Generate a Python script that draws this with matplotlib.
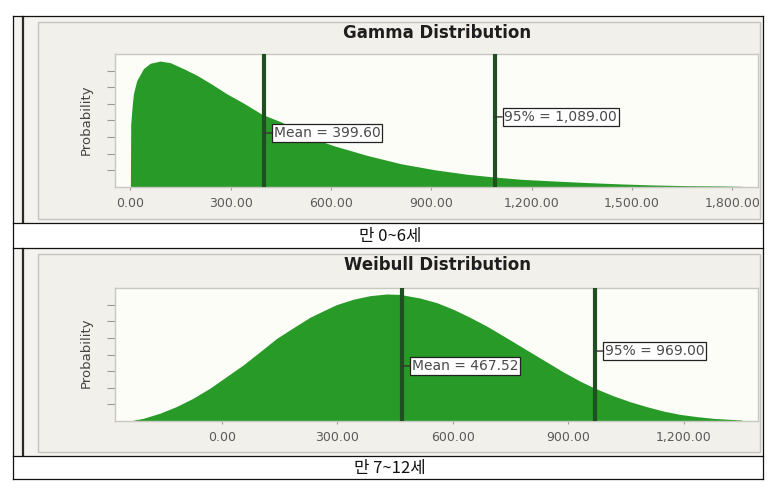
import matplotlib
matplotlib.use("Agg")
import matplotlib.pyplot as plt
from matplotlib.patches import Rectangle
from matplotlib.lines import Line2D

plt.rcParams['font.family'] = ['DejaVu Sans']

# ---------------- data ----------------
gamma_x = [0, 1, 5, 9, 19, 39, 59, 89, 119, 159, 199, 239, 289, 339, 394, 450, 509,
           569, 609, 709, 809, 909, 1009, 1089, 1169, 1269, 1369, 1469, 1569, 1669,
           1769, 1829, 1836]
gamma_p = [0, 0.47, 0.60, 0.70, 0.80, 0.89, 0.93, 0.947, 0.935, 0.89, 0.84, 0.78,
           0.70, 0.63, 0.546, 0.49, 0.415, 0.345, 0.31, 0.237, 0.175, 0.13, 0.095,
           0.075, 0.058, 0.045, 0.033, 0.023, 0.015, 0.010, 0.008, 0.005, 0.0]
gamma_mean = 399.60
gamma_p95 = 1089.00
gamma_ticks = [0, 300, 600, 900, 1200, 1500, 1800]

weibull_x = [-239, -204, -161, -118, -75, -31, 12, 55, 99, 142, 185, 229, 272, 298,
             341, 384, 428, 462, 514, 558, 601, 644, 687, 731, 774, 817, 843, 886,
             930, 969, 1016, 1060, 1103, 1146, 1189, 1233, 1276, 1319, 1350]
weibull_p = [0, 0.02, 0.058, 0.108, 0.17, 0.246, 0.333, 0.42, 0.52, 0.62, 0.70,
             0.78, 0.84, 0.875, 0.915, 0.942, 0.955, 0.952, 0.925, 0.89, 0.84, 0.78,
             0.715, 0.64, 0.565, 0.49, 0.445, 0.37, 0.30, 0.246, 0.19, 0.145,
             0.108, 0.075, 0.05, 0.033, 0.02, 0.0125, 0.0075]
weibull_mean = 467.52
weibull_p95 = 969.00
weibull_ticks = [0, 300, 600, 900, 1200]

titles = ["Gamma Distribution", "Weibull Distribution"]
captions = ["만 0~6세", "만 7~12세"]
ylabel = "Probability"
ytick_fracs = [1/8, 2/8, 3/8, 4/8, 5/8, 6/8, 7/8]

# ---------------- styling ----------------
W, H = 772, 491
FILL = '#289a28'
VLINE = '#1f4f22'
PANEL = '#f1f0eb'
CELL = '#f4f3ef'
PLOTBG = '#fdfdf8'
TICKC = '#5a5a5a'

fig = plt.figure(figsize=(W / 100, H / 100), dpi=100)
fig.patch.set_facecolor('white')


def fx(px):
    return px / W


def fy(py):
    return 1 - py / H


def rect(l, t, r, b, fc, ec='none', lw=0.0, z=0):
    fig.patches.append(Rectangle((fx(l), fy(b)), fx(r) - fx(l), fy(t) - fy(b),
                                 transform=fig.transFigure, facecolor=fc,
                                 edgecolor=ec, linewidth=lw, zorder=z))


def hline(y, x0, x1, color='#111111', lw=1.0, z=5):
    fig.add_artist(Line2D([fx(x0), fx(x1)], [fy(y), fy(y)], transform=fig.transFigure,
                          color=color, lw=lw, zorder=z))


def vline(x, y0, y1, color='#111111', lw=1.0, z=5):
    fig.add_artist(Line2D([fx(x), fx(x)], [fy(y0), fy(y1)], transform=fig.transFigure,
                          color=color, lw=lw, zorder=z))


# table cells
cells = [(16, 223), (248, 456)]
for (t, b) in cells:
    rect(13, t, 763, b, CELL, z=0)
# inner panels
panels = [(22, 219), (254, 452)]
for (t, b) in panels:
    rect(38, t, 760, b, PANEL, ec='#c4c4bc', lw=1.0, z=1)
# thick left lines
for (t, b) in cells:
    vline(23, t + 1, b - 1, color='#2a2a2a', lw=1.6)
# table grid lines
for y in [16, 223, 248, 456, 479]:
    hline(y, 13, 763, lw=0.9)
vline(13, 16, 479, lw=0.9)
vline(763, 16, 479, lw=0.9)

# ---------------- plots ----------------
specs = [
    dict(x=gamma_x, p=gamma_p, mean=gamma_mean, p95=gamma_p95, ticks=gamma_ticks,
         xlim=(-46, 1877), top=54, bottom=187, title_y=33, ylab_y=120, cap_y=236,
         mean_y=0.406, p95_y=0.527),
    dict(x=weibull_x, p=weibull_p, mean=weibull_mean, p95=weibull_p95, ticks=weibull_ticks,
         xlim=(-277, 1392), top=288, bottom=421, title_y=265, ylab_y=353, cap_y=468,
         mean_y=0.414, p95_y=0.526),
]

for i, s in enumerate(specs):
    l, r = 115, 758
    ax = fig.add_axes([fx(l), fy(s['bottom']), fx(r) - fx(l), fy(s['top']) - fy(s['bottom'])])
    ax.set_zorder(3)
    ax.set_facecolor(PLOTBG)
    ax.fill_between(s['x'], 0, s['p'], color=FILL, linewidth=0, zorder=2)
    ax.set_xlim(*s['xlim'])
    ax.set_ylim(0, 1.0)
    for v in (s['mean'], s['p95']):
        ax.axvline(v, color=VLINE, lw=3.0, zorder=3)
    for sp in ax.spines.values():
        sp.set_color('#c8c8c0')
        sp.set_linewidth(1.0)
    ax.set_xticks(s['ticks'])
    ax.set_xticklabels(['{:,.2f}'.format(t) for t in s['ticks']])
    ax.set_yticks(ytick_fracs)
    ax.set_yticklabels([])
    ax.tick_params(axis='x', length=2.5, width=0.8, color='#9a9a9a', pad=5,
                   labelsize=9, labelcolor=TICKC)
    ax.tick_params(axis='y', length=6, width=0.8, color='#9a9a9a')

    labels = [("Mean = {:,.2f}".format(s['mean']), s['mean'], s['mean_y']),
              ("95% = {:,.2f}".format(s['p95']), s['p95'], s['p95_y'])]
    for txt, xv, yv in labels:
        ax.annotate(txt, xy=(xv, yv), xycoords=('data', 'axes fraction'),
                    xytext=(7, 0), textcoords='offset points', ha='left', va='center',
                    fontsize=10, color='#4a4a4a', zorder=6,
                    bbox=dict(boxstyle='square,pad=0.12', fc='white', ec='#222222', lw=0.9),
                    arrowprops=dict(arrowstyle='-', color='#333333', lw=1.0,
                                    shrinkA=0, shrinkB=0))

    fig.text(fx(437), fy(s['title_y']), titles[i], ha='center', va='center',
             fontsize=12, fontweight='bold', color='#1e1e1e')
    fig.text(fx(86), fy(s['ylab_y']), ylabel, rotation=90, ha='center', va='center',
             fontsize=9.5, color='#444444')
    fig.text(fx(390), fy(s['cap_y']), captions[i], ha='center', va='center',
             fontsize=12, color='#111111',
             family=['Noto Sans CJK KR', 'DejaVu Sans'])

fig.savefig('out.png', dpi=100, facecolor='white')
